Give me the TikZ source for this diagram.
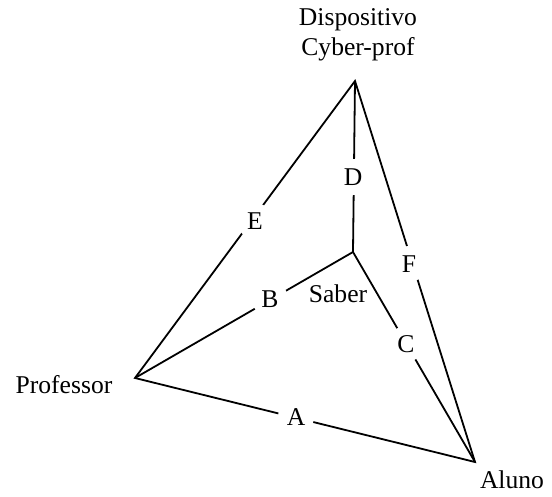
\documentclass[tikz,border=0pt]{standalone}
\usepackage{fontspec}
\setmainfont{Liberation Serif}
\begin{document}
\begin{tikzpicture}[x=1pt,y=-1pt,
  edge/.style={line width=1.8pt,black},
  gap/.style={circle,fill=white,inner sep=0pt,minimum size=36pt,font=\fontsize{25.6}{30}\selectfont},
  lbl/.style={inner sep=0pt,font=\fontsize{25.6}{30}\selectfont}]
\useasboundingbox (0,0) rectangle (552,496);
\coordinate (T) at (355,81);
\coordinate (P) at (135,378);
\coordinate (Al) at (475,462);
\coordinate (S) at (353,252);
\draw[edge,line join=miter] (P) -- (T) -- (Al) -- cycle;
\draw[edge] (T) -- (S);
\draw[edge] (S) -- (P);
\draw[edge] (S) -- (Al);
\node[gap] (e) at (255,221) {E};
\node[gap] (d) at (353,177) {D};
\node[gap] (b) at (270,299) {B};
\node[gap] (f) at (409,264) {F};
\node[gap] (c) at (406,344) {C};
\node[gap] (a) at (296,417) {A};
\node[lbl] (saber) at (338,294) {Saber};
\node[lbl,align=center] (disp) at (358,35) {Dispositivo\\Cyber-prof};
\node[lbl] (prof) at (64,385) {Professor};
\node[lbl] (aluno) at (512,480) {Aluno};
\end{tikzpicture}
\end{document}
